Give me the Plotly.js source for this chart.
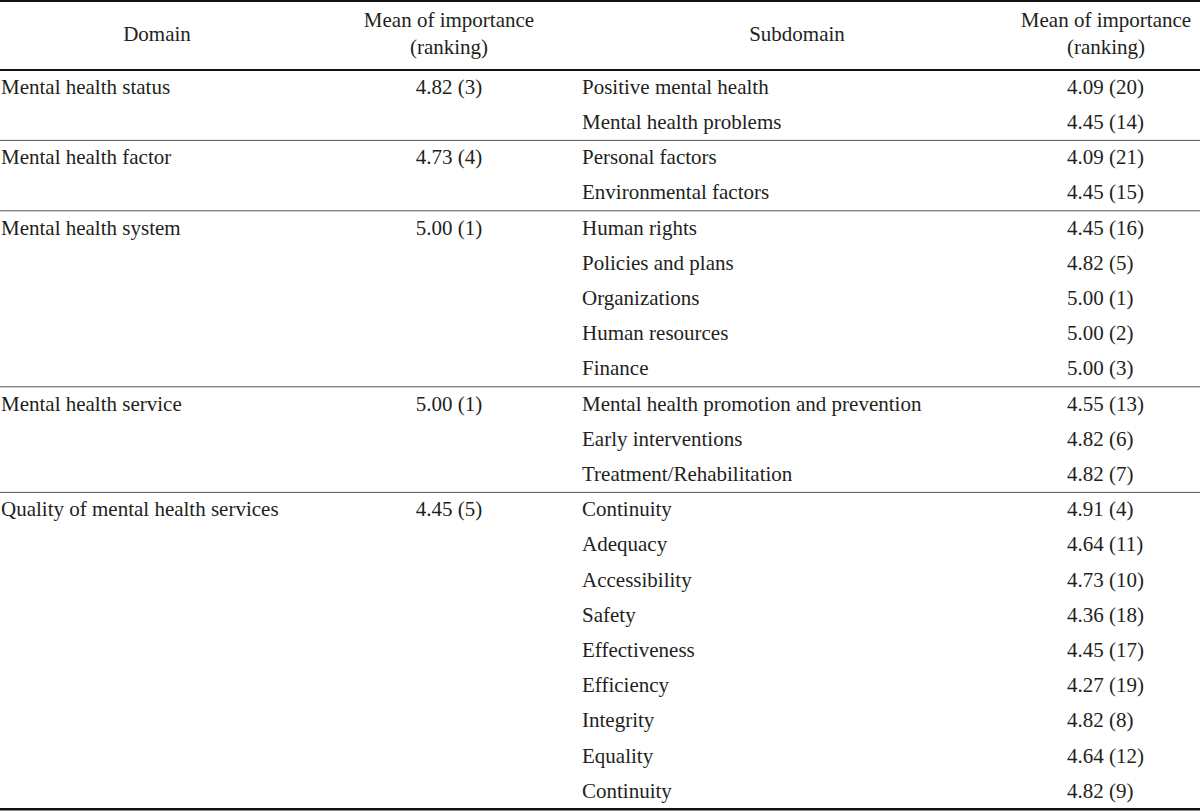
<!DOCTYPE html>
<html>
<head>
<meta charset="utf-8">
<script src="https://cdn.plot.ly/plotly-3.0.1.min.js"></script>
<style>html,body{margin:0;padding:0;background:#fff;}#chart{width:1200px;height:811px;}</style>
</head>
<body>
<div id="chart"></div>
<script>
const headers = ["Domain", "Mean of importance<br>(ranking)", "Subdomain", "Mean of importance<br>(ranking)"];
const domains = ["Mental health status", "Mental health factor", "Mental health system", "Mental health service", "Quality of mental health services"];
const domainMean = [4.82, 4.73, 5.00, 5.00, 4.45];
const domainRank = [3, 4, 1, 1, 5];
const groupSizes = [2, 2, 5, 3, 9];
const subdomains = ["Positive mental health", "Mental health problems", "Personal factors", "Environmental factors",
  "Human rights", "Policies and plans", "Organizations", "Human resources", "Finance",
  "Mental health promotion and prevention", "Early interventions", "Treatment/Rehabilitation",
  "Continuity", "Adequacy", "Accessibility", "Safety", "Effectiveness", "Efficiency", "Integrity", "Equality", "Continuity"];
const subMean = [4.09, 4.45, 4.09, 4.45, 4.45, 4.82, 5.00, 5.00, 5.00, 4.55, 4.82, 4.82, 4.91, 4.64, 4.73, 4.36, 4.45, 4.27, 4.82, 4.64, 4.82];
const subRank = [20, 14, 21, 15, 16, 5, 1, 2, 3, 13, 6, 7, 4, 11, 10, 18, 17, 19, 8, 12, 9];

// layout geometry (pixel-like axis units)
const W = 1200, H = 811;
const headTop = 1, headBottom = 70, rowH = 35.2;
const colX = {domain: 1, dmean: 449, sub: 582, smean: 1067};
const headX = [157, 449, 797, 1106];
const FONT = "Liberation Serif, Times New Roman, serif";
const FS = 21;
const TXT = "#231f20";

const rowY = i => headBottom + rowH * (i + 0.5) + 1;

// domain start rows
const starts = [];
let acc = 0;
groupSizes.forEach(g => { starts.push(acc); acc += g; });
const nRows = acc;

const fmt = (m, r) => m.toFixed(2) + " (" + r + ")";

const traces = [
  { // headers
    type: "scatter", mode: "text", x: headX, y: headers.map(() => (headTop + headBottom) / 2),
    text: headers, textposition: "middle center",
    textfont: {family: FONT, size: FS, color: TXT}, hoverinfo: "skip", showlegend: false
  },
  { // domain names
    type: "scatter", mode: "text", x: domains.map(() => colX.domain), y: starts.map(rowY),
    text: domains, textposition: "middle right",
    textfont: {family: FONT, size: FS, color: TXT}, hoverinfo: "skip", showlegend: false
  },
  { // domain means
    type: "scatter", mode: "text", x: domains.map(() => colX.dmean), y: starts.map(rowY),
    text: domainMean.map((m, i) => fmt(m, domainRank[i])), textposition: "middle center",
    textfont: {family: FONT, size: FS, color: TXT}, hoverinfo: "skip", showlegend: false
  },
  { // subdomain names
    type: "scatter", mode: "text", x: subdomains.map(() => colX.sub), y: subdomains.map((s, i) => rowY(i)),
    text: subdomains, textposition: "middle right",
    textfont: {family: FONT, size: FS, color: TXT}, hoverinfo: "skip", showlegend: false
  },
  { // subdomain means
    type: "scatter", mode: "text", x: subdomains.map(() => colX.smean), y: subdomains.map((s, i) => rowY(i)),
    text: subMean.map((m, i) => fmt(m, subRank[i])), textposition: "middle right",
    textfont: {family: FONT, size: FS, color: TXT}, hoverinfo: "skip", showlegend: false
  }
];

const shapes = [
  {type: "line", xref: "x", yref: "y", x0: 0, x1: W, y0: headTop, y1: headTop, line: {color: "#111", width: 2}},
  {type: "line", xref: "x", yref: "y", x0: 0, x1: W, y0: headBottom, y1: headBottom, line: {color: "#111", width: 2}},
  {type: "line", xref: "x", yref: "y", x0: 0, x1: W, y0: headBottom + rowH * nRows, y1: headBottom + rowH * nRows, line: {color: "#111", width: 2.5}}
];
starts.slice(1).forEach(s => {
  const y = headBottom + rowH * s;
  shapes.push({type: "line", xref: "x", yref: "y", x0: 0, x1: W, y0: y, y1: y, line: {color: "#555", width: 1}});
});

const layout = {
  width: W, height: H,
  margin: {l: 0, r: 0, t: 0, b: 0},
  paper_bgcolor: "#fff", plot_bgcolor: "#fff",
  xaxis: {range: [0, W], visible: false, fixedrange: true},
  yaxis: {range: [H, 0], visible: false, fixedrange: true},
  shapes: shapes,
  showlegend: false
};

Plotly.newPlot("chart", traces, layout, {displayModeBar: false, staticPlot: true});
</script>
</body>
</html>
